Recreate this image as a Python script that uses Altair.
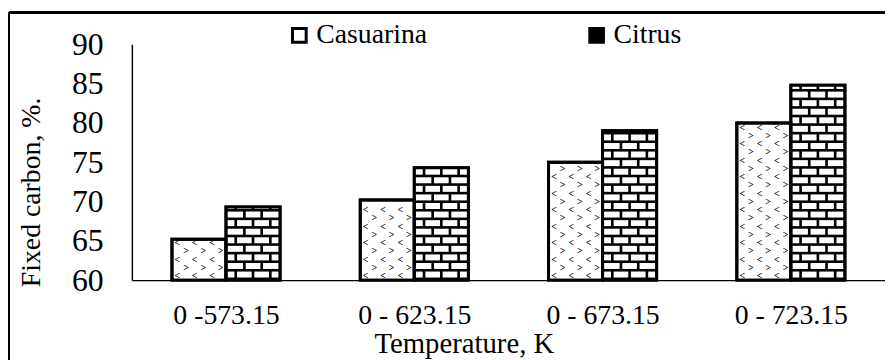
import altair as alt
import pandas as pd

# ---- data ----
categories = ["0 -573.15", "0 - 623.15", "0 - 673.15", "0 - 723.15"]
series = ["Casuarina", "Citrus"]
casuarina = [65.2, 70.2, 75.0, 80.0]
citrus = [69.3, 74.3, 79.0, 84.8]
y_ticks = [60, 65, 70, 75, 80, 85, 90]

FONT = "Liberation Serif"
Y_MIN, Y_MAX = 60, 90
BAR_W = 0.287  # width of one bar as a fraction of a category slot

# ---- main table ----
rows = []
for i, c in enumerate(categories):
    rows.append(dict(idx=i, cat=c, series="Casuarina", value=casuarina[i]))
    rows.append(dict(idx=i, cat=c, series="Citrus", value=citrus[i]))
bars = pd.DataFrame(rows)

# ---- brick texture (white bricks on the black Citrus bars) ----
H = 1.09      # brick row height in data units
MV = 0.33     # mortar thickness (vertical, data units)
MH = 0.014    # mortar thickness (horizontal, data units)
JA = [0, 0.18, 0.5, 0.82, 1]
JB = [0, 0.34, 0.66, 1]
bricks = []
for i, v in enumerate(citrus):
    x0 = i + 0.5
    k = 0
    while Y_MIN + k * H < v:
        yb = Y_MIN + k * H + MV
        yt = min(Y_MIN + (k + 1) * H, v)
        if yt - yb > 0.05:
            j = JA if k % 2 == 0 else JB
            for a, b in zip(j[:-1], j[1:]):
                bricks.append(dict(x=x0 + a * BAR_W + MH / 2, x2=x0 + b * BAR_W - MH / 2, y=yb, y2=yt))
        k += 1
bricks = pd.DataFrame(bricks)

# ---- chevron texture on Casuarina bars ----
FR = [0.1, 0.26, 0.42, 0.58, 0.74, 0.9]
chev = []
for i, v in enumerate(casuarina):
    x0 = i + 0.5 - BAR_W
    for j, f in enumerate(FR):
        y = Y_MIN + 0.5 + (1.05 if j % 2 else 0)
        while y < v - 0.3:
            chev.append(dict(x=x0 + f * BAR_W, y=y, ch="<" if j % 2 == 0 else ">"))
            y += 2.1
chev = pd.DataFrame(chev)

label_expr = "[" + ",".join("'" + c + "'" for c in categories) + "][floor(datum.value)]"

xscale = alt.Scale(domain=[0, len(categories)], nice=False, zero=False)
yscale = alt.Scale(domain=[Y_MIN, Y_MAX], nice=False, zero=False)

x_axis = alt.Axis(
    values=[i + 0.5 for i in range(len(categories))], labelExpr=label_expr,
    ticks=False, tickSize=0, grid=False, domainColor="black", domainWidth=1.5,
    labelFont=FONT, labelFontSize=28, labelColor="black", labelBaseline="alphabetic",
    labelPadding=44, labelOverlap=False,
    title="Temperature, K", titleFont=FONT, titleFontSize=29, titleFontWeight="normal",
    titleColor="black", titleX=335, titleY=73, titleBaseline="alphabetic", titleAlign="center",
)
y_axis = alt.Axis(
    values=y_ticks, ticks=False, tickSize=0, grid=False, domainColor="black", domainWidth=1.5,
    labelFont=FONT, labelFontSize=32, labelColor="black", labelBaseline="middle", labelPadding=29,
    labelOverlap=False,
    title="Fixed carbon, %.", titleFont=FONT, titleFontSize=28, titleFontWeight="normal",
    titleColor="black", titleX=-93, titleY=149, titleAngle=270, titleBaseline="alphabetic",
    titleAlign="center",
)

base = alt.Chart(bars).transform_calculate(
    x0="datum.series == 'Casuarina' ? datum.idx + 0.5 - %f : datum.idx + 0.5" % BAR_W,
    x1="datum.series == 'Casuarina' ? datum.idx + 0.5 : datum.idx + 0.5 + %f" % BAR_W,
)

bar_fill = base.mark_rect(stroke="black", strokeWidth=3).encode(
    x=alt.X("x0:Q", scale=xscale, axis=x_axis),
    x2="x1:Q",
    y=alt.Y("value:Q", scale=yscale, axis=y_axis),
    y2=alt.datum(Y_MIN),
    fill=alt.Fill("series:N", scale=alt.Scale(domain=series, range=["white", "black"]),
                  legend=alt.Legend(title=None, orient="none", legendX=155, legendY=-23,
                                    direction="horizontal", symbolType="square", symbolSize=190,
                                    symbolStrokeColor="black", symbolStrokeWidth=3,
                                    labelFont=FONT, labelFontSize=28, labelColor="black",
                                    labelOffset=3, columnPadding=157, padding=0)),
)

brick_layer = alt.Chart(bricks).mark_rect(color="white").encode(
    x=alt.X("x:Q", scale=xscale, axis=x_axis), x2="x2:Q",
    y=alt.Y("y:Q", scale=yscale, axis=y_axis), y2="y2:Q",
)

chev_layer = alt.Chart(chev).mark_text(font=FONT, fontSize=10, fontWeight="bold", color="black",
                                       baseline="middle", align="center").encode(
    x=alt.X("x:Q", scale=xscale, axis=x_axis), y=alt.Y("y:Q", scale=yscale, axis=y_axis), text="ch:N",
)

bar_outline = base.mark_rect(fillOpacity=0, stroke="black", strokeWidth=3).encode(
    x=alt.X("x0:Q", scale=xscale, axis=x_axis), x2="x1:Q",
    y=alt.Y("value:Q", scale=yscale, axis=y_axis), y2=alt.datum(Y_MIN),
)

frame_left = alt.Chart(bars).mark_rule(color="black", strokeWidth=2).encode(
    x=alt.value(-124), y=alt.value(-32), y2=alt.value(340))
frame_top = alt.Chart(bars).mark_rule(color="black", strokeWidth=2).encode(
    x=alt.value(-124), x2=alt.value(800), y=alt.value(-32))

chart = alt.layer(
    bar_fill, frame_left, frame_top, brick_layer, chev_layer, bar_outline
).properties(
    width=760, height=238,
    padding={"left": 125, "top": 35, "right": 0, "bottom": 79},
    autosize=alt.AutoSizeParams(type="none"),
    background="white",
).configure_view(strokeWidth=0).configure_legend(
    labelFont=FONT, labelFontSize=28
).configure_axis(labelOverlap=False)

chart.save("out.html", embed_options={"renderer": "svg", "actions": False})
